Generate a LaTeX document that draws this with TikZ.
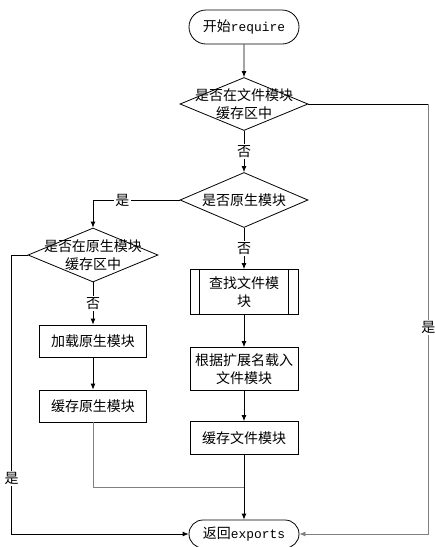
\documentclass[tikz,border=0pt]{standalone}
\usepackage{fontspec}
\setmainfont{Noto Sans CJK SC}
\newfontfamily\lat[Scale=0.92]{Liberation Mono}
\usetikzlibrary{shapes.geometric,shapes.misc,arrows.meta}

\begin{document}
\begin{tikzpicture}[x=1pt, y=-1pt, line width=0.8pt,
  >={Latex[length=6pt,width=5pt]},
  every node/.style={font=\fontsize{14}{18}\selectfont},
  term/.style={draw, rounded rectangle, minimum width=110pt, minimum height=34pt, inner sep=0pt},
  dec/.style={draw, diamond, minimum width=128pt, minimum height=53pt, inner sep=0pt},
  proc/.style={draw, rectangle, minimum width=108pt, minimum height=33pt, inner sep=0pt, align=center},
  txt/.style={align=center, inner sep=0pt},
  lbl/.style={fill=white, inner sep=1.5pt},
  greyline/.style={draw=black!50}]
  \useasboundingbox (0,0) rectangle (435,547);

  % start and end
  \node[term] (start) at (244,27) {开始{\lat require}};
  \node[term, minimum height=28pt] (end) at (244,534) {返回{\lat exports}};

  % decisions
  \node[dec] (d1) at (244,104) {};
  \node[txt] at (d1) {是否在文件模块\\缓存区中};
  \node[dec, minimum height=55pt] (d2) at (244,200) {};
  \node[txt] at (d2) {是否原生模块};
  \node[dec, minimum width=130pt, minimum height=54pt] (d3) at (93,255) {};
  \node[txt] at (d3) {是否在原生模块\\缓存区中};

  % native module branch
  \node[proc, minimum width=107pt, minimum height=32pt] (n1) at (93,341) {加载原生模块};
  \node[proc, minimum width=107pt, minimum height=32pt] (n2) at (93,406) {缓存原生模块};

  % file module branch
  \node[proc, minimum height=45pt] (f1) at (244,292) {查找文件模\\块};
  \draw ([xshift=10pt]f1.north west) -- ([xshift=10pt]f1.south west);
  \draw ([xshift=-10pt]f1.north east) -- ([xshift=-10pt]f1.south east);
  \node[proc, minimum height=43pt] (f2) at (244,369) {根据扩展名载入\\文件模块};
  \node[proc] (f3) at (244,438) {缓存文件模块};

  % connectors
  \draw[->] (start) -- (d1);
  \draw[->] (d1) -- node[lbl] {否} (d2);
  \draw[->] (d2) -- node[lbl] {否} (f1);
  \draw[->] (d2.west) -| node[lbl, pos=0.33] {是} (d3.north);
  \draw[->] (d3) -- node[lbl] {否} (n1);
  \draw[->] (n1) -- (n2);
  \draw[->] (f1) -- (f2);
  \draw[->] (f2) -- (f3);
  \draw[->] (f3) -- (end);

  \coordinate (join) at (244,487);
  \draw[greyline] (n2.south) |- (join);

  \draw[->] (d3.west) -- ++(-16,0) |- node[lbl, pos=0.4] {是} (end.west);
  \draw (d1.east) -- ++(120,0) coordinate (rt);
  \draw[->, greyline] (rt) |- node[lbl, pos=0.26] {是} (end.east);
\end{tikzpicture}
\end{document}
